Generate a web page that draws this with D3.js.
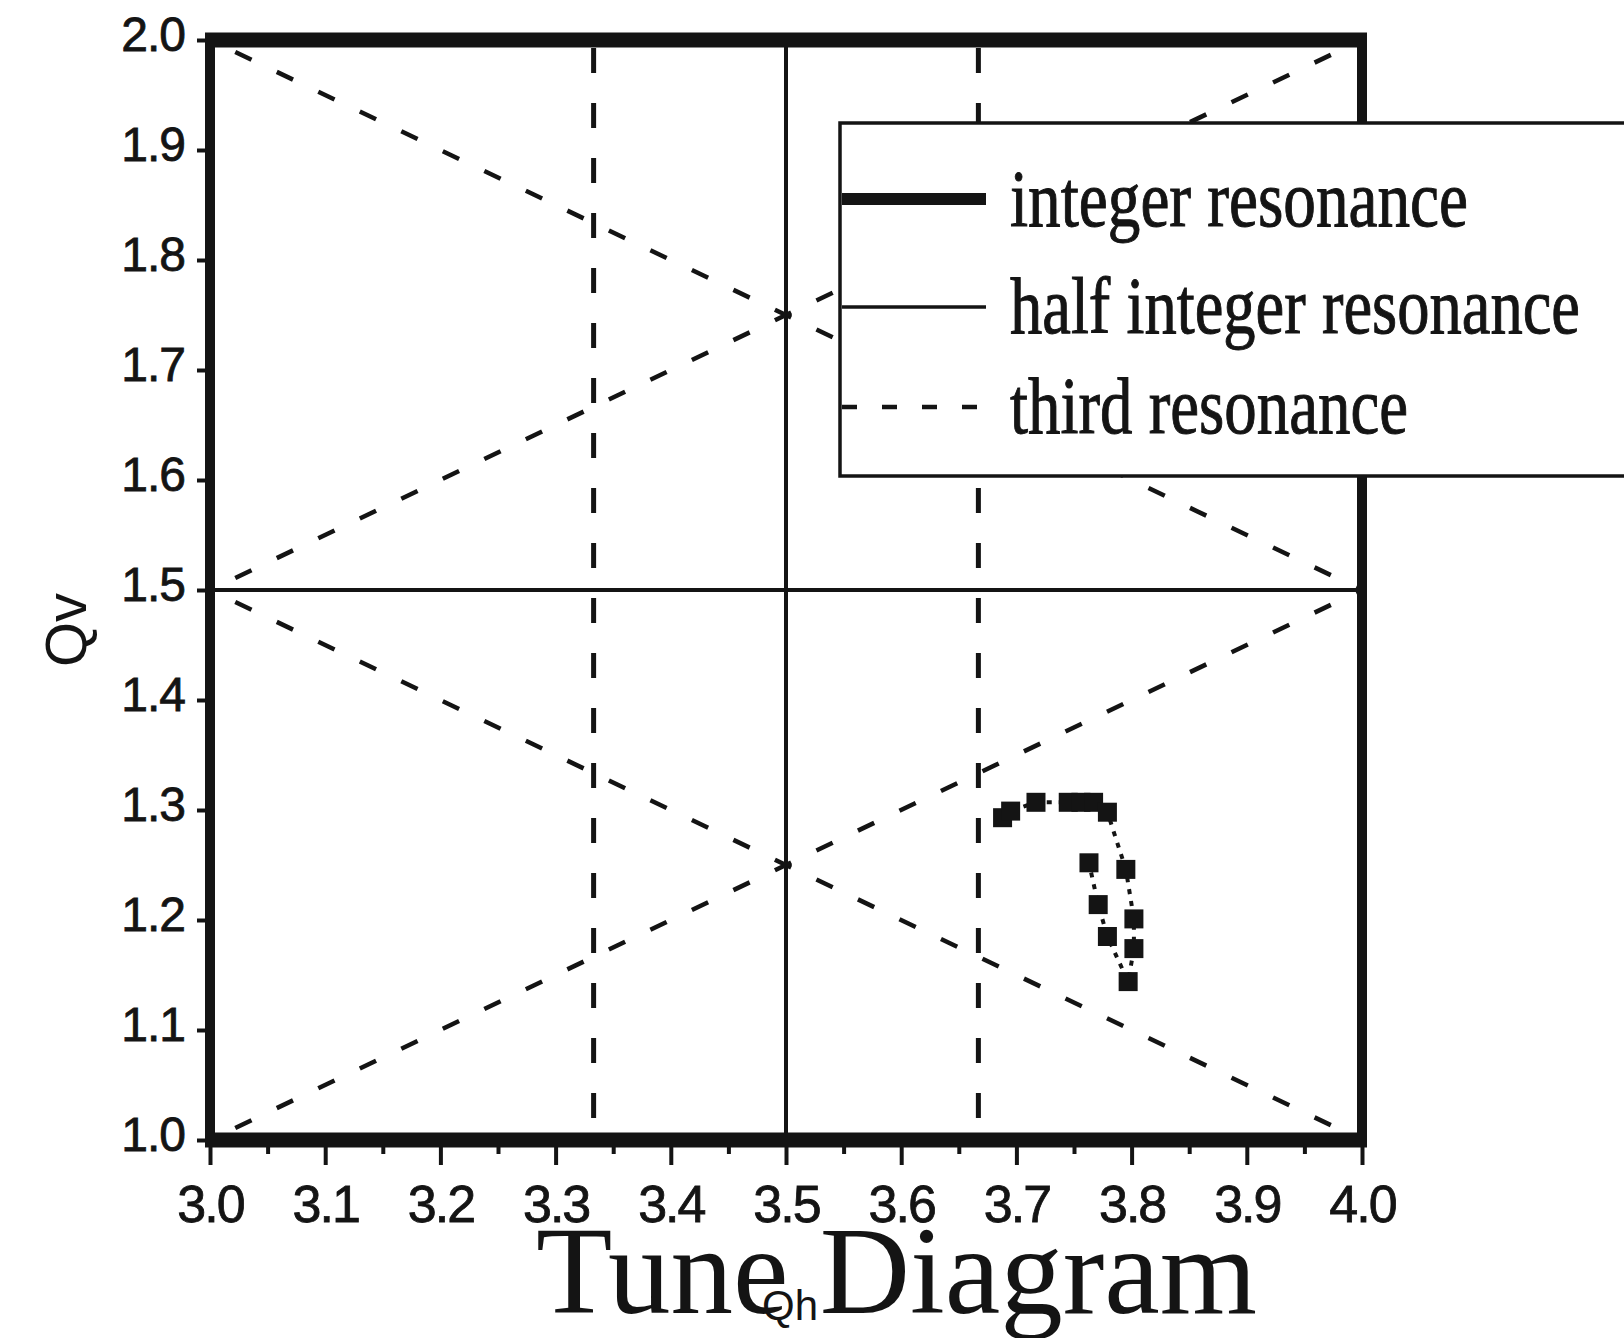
<!DOCTYPE html>
<html>
<head>
<meta charset="utf-8">
<script src="https://cdn.jsdelivr.net/npm/d3@7"></script>
<style>
body { margin: 0; background: #fff; }
</style>
</head>
<body>
<div id="graph"></div>
<script>
// DONNEES DU DIAGRAMME

let qhTicks = [3.0, 3.1, 3.2, 3.3, 3.4, 3.5, 3.6, 3.7, 3.8, 3.9, 4.0];
let qhTickLabels = ['3.0', '3.1', '3.2', '3.3', '3.4', '3.5', '3.6', '3.7', '3.8', '3.9', '4.0'];
let qhMinorTicks = [3.05, 3.15, 3.25, 3.35, 3.45, 3.55, 3.65, 3.75, 3.85, 3.95];
let qvTicks = [1.0, 1.1, 1.2, 1.3, 1.4, 1.5, 1.6, 1.7, 1.8, 1.9, 2.0];
let qvTickLabels = ['1.0', '1.1', '1.2', '1.3', '1.4', '1.5', '1.6', '1.7', '1.8', '1.9', '2.0'];

// resonances
let integerQh = [3.0, 4.0];
let integerQv = [1.0, 2.0];
let halfQh = [3.5];
let halfQv = [1.5];
let thirdQh = [3.333, 3.667];
let thirdDiagonals = [
    [[3.0, 2.0], [4.0, 1.5]],
    [[3.0, 1.5], [4.0, 2.0]],
    [[3.0, 1.5], [4.0, 1.0]],
    [[3.0, 1.0], [4.0, 1.5]]
];

// points de travail mesures
let tuneQh = [3.688, 3.695, 3.717, 3.745, 3.756, 3.767, 3.779, 3.795, 3.802, 3.802, 3.797, 3.779, 3.771, 3.763];
let tuneQv = [1.293, 1.299, 1.307, 1.307, 1.307, 1.307, 1.298, 1.246, 1.201, 1.174, 1.144, 1.185, 1.214, 1.252];

let legendLabels = ['integer resonance', 'half integer resonance', 'third resonance'];

// dimensions
let width = 1624;
let height = 1338;
let ink = '#141414';
let sans = '"Liberation Sans", Arial, sans-serif';
let serif = '"Liberation Serif", "Times New Roman", serif';

let x = d3.scaleLinear().domain([3.0, 4.0]).range([210, 1362]);
let y = d3.scaleLinear().domain([1.0, 2.0]).range([1140, 40]);

let svg = d3.select('#graph').append('svg')
    .attr('width', width)
    .attr('height', height)
    .style('background', '#fff');

// TROISIEME RESONANCE (pointilles)
let third = svg.append('g').attr('class', 'third')
    .attr('stroke', ink)
    .attr('fill', 'none');

third.selectAll('line.vert')
    .data(thirdQh)
    .enter().append('line')
    .attr('class', 'vert')
    .attr('x1', d => x(d)).attr('x2', d => x(d))
    .attr('y1', y(2.0) + 8).attr('y2', y(1.0))
    .attr('stroke-width', 5)
    .attr('stroke-dasharray', '25,30');

third.selectAll('line.diag')
    .data(thirdDiagonals)
    .enter().append('line')
    .attr('class', 'diag')
    .attr('x1', d => x(d[0][0])).attr('y1', d => y(d[0][1]))
    .attr('x2', d => x(d[1][0])).attr('y2', d => y(d[1][1]))
    .attr('stroke-width', 4.5)
    .attr('stroke-dasharray', '0,28,18,0');

// DEMI-ENTIERE (trait fin)
let half = svg.append('g').attr('class', 'half')
    .attr('stroke', ink);

half.selectAll('line.vert')
    .data(halfQh)
    .enter().append('line')
    .attr('x1', d => x(d)).attr('x2', d => x(d))
    .attr('y1', y(2.0)).attr('y2', y(1.0))
    .attr('stroke-width', 4);

half.selectAll('line.horiz')
    .data(halfQv)
    .enter().append('line')
    .attr('x1', x(3.0)).attr('x2', x(4.0))
    .attr('y1', d => y(d)).attr('y2', d => y(d))
    .attr('stroke-width', 4);

// ENTIERE (cadre epais)
let integer = svg.append('g').attr('class', 'integer')
    .attr('stroke', ink);

integer.selectAll('line.vert')
    .data(integerQh)
    .enter().append('line')
    .attr('x1', d => x(d)).attr('x2', d => x(d))
    .attr('y1', y(2.0) - 7).attr('y2', y(1.0) + 7)
    .attr('stroke-width', 10);

integer.selectAll('line.horiz')
    .data(integerQv)
    .enter().append('line')
    .attr('x1', x(3.0) - 5).attr('x2', x(4.0) + 5)
    .attr('y1', d => y(d)).attr('y2', d => y(d))
    .attr('stroke-width', 15);

// AXES
let axisX = svg.append('g')
    .attr('transform', 'translate(0,' + (y(1.0) + 7) + ')')
    .call(d3.axisBottom(x)
        .tickValues(qhTicks)
        .tickSize(18)
        .tickPadding(20)
        .tickFormat((d, i) => qhTickLabels[i]));

let axisXMinor = svg.append('g')
    .attr('transform', 'translate(0,' + (y(1.0) + 7) + ')')
    .call(d3.axisBottom(x)
        .tickValues(qhMinorTicks)
        .tickSize(7)
        .tickFormat(''));

let axisY = svg.append('g')
    .attr('transform', 'translate(' + (x(3.0) - 5) + ',0)')
    .call(d3.axisLeft(y)
        .tickValues(qvTicks)
        .tickSize(8)
        .tickPadding(12)
        .tickFormat((d, i) => qvTickLabels[i]));

[axisX, axisXMinor, axisY].forEach(function(a) {
    a.select('.domain').remove();
    a.selectAll('line').attr('stroke', ink).attr('stroke-width', 4);
    a.selectAll('text')
        .attr('fill', ink)
        .attr('stroke', ink)
        .attr('stroke-width', 0.8)
        .style('font-family', sans);
});
axisX.selectAll('text').style('font-size', '52px').attr('letter-spacing', -2);
axisY.selectAll('text').style('font-size', '48px').attr('dy', '0.22em').attr('letter-spacing', -1);

// POINTS DE TRAVAIL
let tune = tuneQh.map((d, i) => [d, tuneQv[i]]);

svg.append('path')
    .datum(tune)
    .attr('fill', 'none')
    .attr('stroke', ink)
    .attr('stroke-width', 4)
    .attr('stroke-dasharray', '5,7')
    .attr('d', d3.line().x(d => x(d[0])).y(d => y(d[1])));

let markSize = 19;
svg.selectAll('rect.tune')
    .data(tune)
    .enter().append('rect')
    .attr('class', 'tune')
    .attr('x', d => x(d[0]) - markSize / 2)
    .attr('y', d => y(d[1]) - markSize / 2)
    .attr('width', markSize)
    .attr('height', markSize)
    .attr('fill', ink);

// LEGENDE
let legend = svg.append('g').attr('class', 'legend');

legend.append('rect')
    .attr('x', 840)
    .attr('y', 123)
    .attr('width', 900)
    .attr('height', 353)
    .attr('fill', '#fff')
    .attr('stroke', ink)
    .attr('stroke-width', 3.5);

let legendRowY = [199, 307, 407];
let legendBaseline = [226, 333, 433];
let legendWidth = [458, 570, 398];
let legendStroke = [12, 3.5, 4.5];
let legendDash = [null, null, '15,25'];

legend.selectAll('line.key')
    .data(legendLabels)
    .enter().append('line')
    .attr('class', 'key')
    .attr('x1', 842).attr('x2', 986)
    .attr('y1', (d, i) => legendRowY[i]).attr('y2', (d, i) => legendRowY[i])
    .attr('stroke', ink)
    .attr('stroke-width', (d, i) => legendStroke[i])
    .attr('stroke-dasharray', (d, i) => legendDash[i]);

legend.selectAll('text')
    .data(legendLabels)
    .enter().append('text')
    .attr('x', 1010)
    .attr('y', (d, i) => legendBaseline[i])
    .attr('textLength', (d, i) => legendWidth[i])
    .attr('lengthAdjust', 'spacingAndGlyphs')
    .attr('fill', ink)
    .attr('stroke', ink)
    .attr('stroke-width', 1)
    .style('font-family', serif)
    .style('font-size', '80px')
    .text(d => d);

// TITRES
svg.append('text')
    .attr('transform', 'translate(66,630) rotate(-90)')
    .attr('text-anchor', 'middle')
    .attr('dy', '0.35em')
    .attr('fill', ink)
    .style('font-family', sans)
    .style('font-size', '58px')
    .text('Qv');

svg.append('text')
    .attr('x', 790)
    .attr('y', 1320)
    .attr('text-anchor', 'middle')
    .attr('fill', ink)
    .style('font-family', sans)
    .style('font-size', '42px')
    .text('Qh');

svg.append('text')
    .attr('x', 536)
    .attr('y', 1313)
    .attr('fill', ink)
    .style('font-family', serif)
    .style('font-size', '125px')
    .text('Tune Diagram');
</script>
</body>
</html>
